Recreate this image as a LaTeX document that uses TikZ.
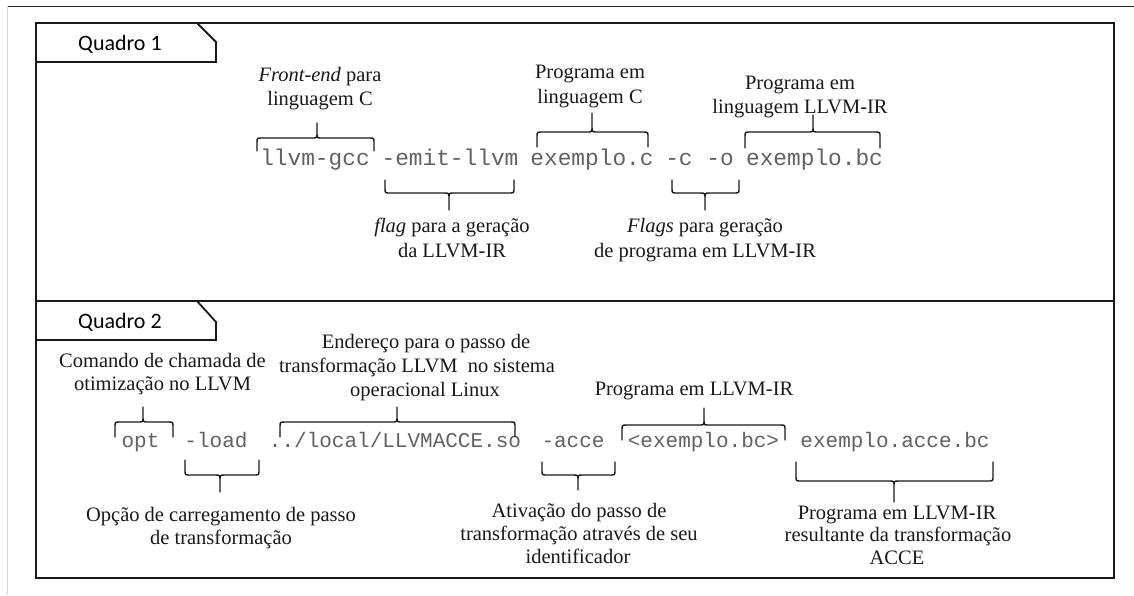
\documentclass[tikz,border=0pt]{standalone}
\usepackage{fontspec}
\setmainfont{Liberation Serif}
\newfontfamily\codefont{Liberation Mono}
\newfontfamily\tabfont{Carlito}

% curly brace opening downwards, tip pointing up: x1, x2, tip x, end y, bar y, tip y
\newcommand\BraceUp[6]{%
  \draw[bracestyle] (#1,#4) -- (#1,#5+5) .. controls (#1,#5) .. (#1+5,#5)
    -- (#3-5,#5) .. controls (#3,#5) .. (#3,#5-5) -- (#3,#6)
    (#3,#5-5) .. controls (#3,#5) .. (#3+5,#5)
    -- (#2-5,#5) .. controls (#2,#5) .. (#2,#5+5) -- (#2,#4);}
% curly brace opening upwards, tip pointing down
\newcommand\BraceDown[6]{%
  \draw[bracestyle] (#1,#4) -- (#1,#5-5) .. controls (#1,#5) .. (#1+5,#5)
    -- (#3-5,#5) .. controls (#3,#5) .. (#3,#5+5) -- (#3,#6)
    (#3,#5+5) .. controls (#3,#5) .. (#3+5,#5)
    -- (#2-5,#5) .. controls (#2,#5) .. (#2,#5-5) -- (#2,#4);}

\begin{document}
\begin{tikzpicture}[x=1pt,y=-1pt,
  frame/.style={line width=1.8pt, draw=black!90, line join=miter},
  tabtext/.style={font=\tabfont\fontsize{22}{26}\selectfont, anchor=base west, inner sep=0pt},
  codeA/.style={font=\codefont\fontsize{22.8}{26}\selectfont, text=black!62, anchor=base, inner sep=0pt},
  codeB/.style={font=\codefont\fontsize{21}{26}\selectfont, text=black!62, anchor=base, inner sep=0pt},
  note/.style={font=\fontsize{20.5}{24}\selectfont, text=black!90, anchor=base, inner sep=0pt},
  bracestyle/.style={line width=1.4pt, draw=black!90, line join=round, line cap=round}]
\useasboundingbox (0,0) rectangle (1134,595);
\fill[white] (0,0) rectangle (1134,595);

% page rules
\draw[line width=1pt, black!85] (7,6) -- (1134,6);
\draw[line width=1pt, black!15] (7,6) -- (7,595);

% the two frames with their tabs
\draw[frame] (36,23) rectangle (1114,301);
\draw[frame] (36,301) rectangle (1114,578);
\draw[frame] (36,62) -- (216,62) -- (216,42) -- (197,23);
\draw[frame] (36,340) -- (216,340) -- (216,322) -- (197,301);
\node[tabtext] (q1) at (78,50) {Quadro 1};
\node[tabtext] (q2) at (78,328) {Quadro 2};

% ---- Quadro 1: compiling to LLVM-IR
\node[codeA] (gcc)  at (315,165)   {llvm-gcc};
\node[codeA] (emit) at (450,165)   {-emit-llvm};
\node[codeA] (srcc) at (592,165)   {exemplo.c};
\node[codeA] (co)   at (699.5,165) {-c -o};
\node[codeA] (bc)   at (814.5,165) {exemplo.bc};

\BraceUp{257}{374}{317}{151}{138}{123}
\BraceDown{385}{514}{449}{180}{193}{210}
\BraceUp{537}{648}{592}{147}{132}{113}
\BraceDown{672}{739}{705}{180}{193}{210}
\BraceUp{745}{880}{813}{148}{132}{115}

\node[note] (fe1) at (320,81)  {\textit{Front-end} para};
\node[note] (fe2) at (320,105) {linguagem C};
\node[note] (pc1) at (590,78)  {Programa em};
\node[note] (pc2) at (590,103) {linguagem C};
\node[note] (pl1) at (800,89)  {Programa em};
\node[note] (pl2) at (800,113) {linguagem LLVM-IR};
\node[note] (fl1) at (452,232) {\textit{flag} para a geração};
\node[note] (fl2) at (452,257) {da LLVM-IR};
\node[note] (fs1) at (705,232) {\textit{Flags} para geração};
\node[note] (fs2) at (705,257) {de programa em LLVM-IR};

% ---- Quadro 2: running the transformation pass
\node[codeB] (opt)  at (140.5,447) {opt};
\node[codeB] (load) at (216,447)   {-load};
\node[codeB] (so)   at (395,447)   {../local/LLVMACCE.so};
\node[codeB] (acce) at (573,447)   {-acce};
\node[codeB] (inbc) at (703.5,447) {<exemplo.bc>};
\node[codeB] (outbc) at (895,447)  {exemplo.acce.bc};

\BraceUp{115}{173}{143}{437}{422}{407}
\BraceDown{185}{259}{220}{460}{475}{492}
\BraceUp{280}{515}{397}{437}{422}{407}
\BraceDown{542}{615}{578}{462}{475}{490}
\BraceUp{622}{785}{704}{440}{425}{408}
\BraceDown{796}{993}{894}{462}{481}{502}

\node[note] (cm1) at (162.5,367) {Comando de chamada de};
\node[note] (cm2) at (162.5,390) {otimização no LLVM};
\node[note] (en1) at (426,348) {Endereço para o passo de};
\node[note] (en2) at (417,372) {transformação LLVM\ \ no sistema};
\node[note] (en3) at (425,396) {operacional Linux};
\node[note] (pr)  at (694,395) {Programa em LLVM-IR};
\node[note] (op1) at (221,521) {Opção de carregamento de passo};
\node[note] (op2) at (221,544) {de transformação};
\node[note] (at1) at (579,517) {Ativação do passo de};
\node[note] (at2) at (579,540) {transformação através de seu};
\node[note] (at3) at (578,563) {identificador};
\node[note] (rs1) at (897,519) {Programa em LLVM-IR};
\node[note] (rs2) at (898,541) {resultante da transformação};
\node[note] (rs3) at (897,564) {ACCE};
\end{tikzpicture}
\end{document}
